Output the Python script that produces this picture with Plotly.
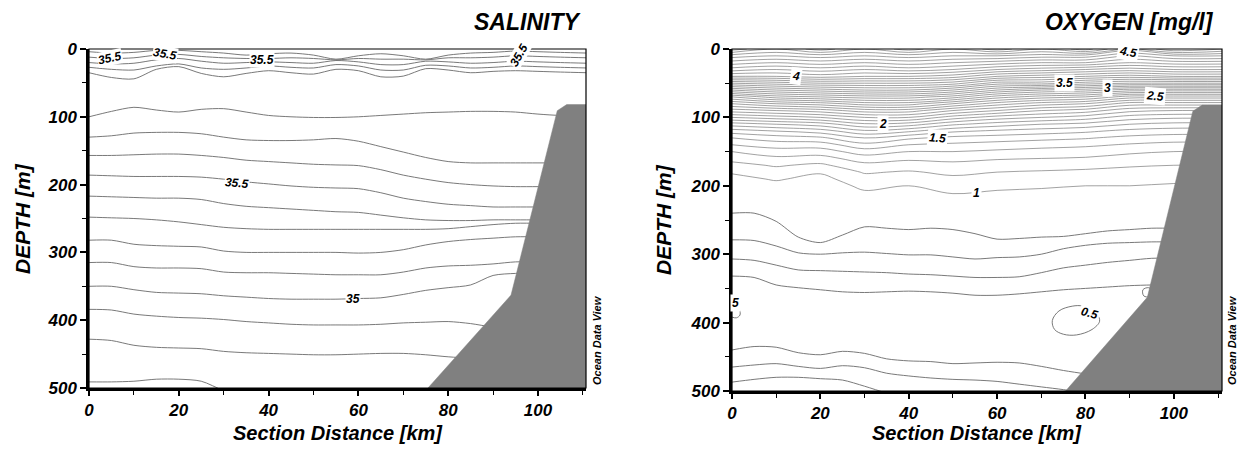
import numpy as np
import plotly.graph_objects as go

# ---------------- data ----------------
# shared distance grid (km) for hand-read isolines
XG = [0, 5, 10, 15, 20, 25, 30, 35, 40, 45, 50, 55, 60, 65, 70, 75, 80, 85, 90, 95, 100, 105, 111]

# Salinity isolines: depth (m) at each XG position
SAL_S5 = [4, 6, 5, 2, 2, 4, 6, 9, 7, 6, 9, 15, 10, 7, 10, 15, 9, 6, 5, 3, 4, 5, 6]
SAL_S4 = [12, 14, 13, 9, 8, 11, 13, 14, 14, 13, 14, 16, 14, 15, 15, 16, 13, 13, 12, 10, 11, 12, 13]
SAL_S3 = [20, 22, 21, 16, 14, 18, 21, 20, 19, 20, 21, 17, 19, 23, 23, 18, 19, 21, 20, 18, 19, 20, 21]
SAL_S2 = [27, 30, 31, 25, 22, 28, 30, 28, 25, 27, 28, 23, 25, 31, 31, 24, 25, 28, 27, 25, 26, 27, 28]
SAL_S1 = [35, 42, 44, 30, 26, 36, 41, 36, 32, 35, 37, 30, 32, 41, 40, 29, 31, 35, 33, 32, 33, 34, 35]
SAL_L1 = [100, 92, 86, 90, 93, 89, 88, 93, 98, 100, 101, 101, 100, 98, 96, 94, 93, 92, 92, 93, 96, 98, 98]
SAL_L2 = [130, 128, 124, 123, 123, 125, 130, 134, 135, 135, 134, 132, 136, 144, 152, 160, 166, 168, 168, 168, 168, 168, 168]
SAL_L3 = [157, 157, 156, 155, 155, 157, 160, 164, 166, 168, 170, 171, 172, 178, 186, 192, 197, 200, 202, 203, 203, 203, 203]
SAL_L4 = [186, 187, 188, 188, 188, 189, 192, 196, 199, 202, 204, 205, 206, 212, 220, 225, 229, 231, 233, 233, 233, 233, 233]
SAL_L5 = [217, 218, 219, 220, 220, 222, 228, 232, 234, 236, 238, 240, 241, 245, 249, 252, 253, 253, 252, 252, 252, 252, 252]
SAL_L6 = [248, 249, 250, 252, 255, 259, 263, 265, 266, 266, 266, 266, 266, 266, 266, 266, 265, 262, 259, 257, 257, 257, 257]
SAL_L7 = [282, 282, 288, 290, 291, 292, 298, 300, 300, 300, 300, 300, 301, 300, 296, 289, 284, 281, 279, 277, 277, 277, 277]
SAL_L8 = [315, 315, 321, 323, 323, 324, 329, 330, 330, 331, 332, 333, 333, 333, 329, 323, 320, 319, 317, 314, 314, 314, 314]
SAL_L9 = [350, 350, 355, 359, 360, 361, 364, 366, 368, 369, 369, 369, 368, 367, 362, 356, 352, 348, 334, 331, 331, 331, 331]
SAL_L10 = [384, 385, 391, 394, 396, 397, 399, 402, 404, 406, 407, 407, 407, 406, 404, 403, 402, 405, 410, 410, 410, 410, 410]
SAL_L11 = [428, 430, 437, 440, 441, 442, 446, 448, 449, 450, 451, 451, 450, 449, 449, 451, 454, 456, 456, 456, 456, 456, 456]
SAL_L12 = [491, 491, 490, 487, 487, 490, 504, 515, 520, 520, 520, 520, 520, 520, 520, 520, 520, 520, 520, 520, 520, 520, 520]
SAL_LINES = [SAL_S5, SAL_S4, SAL_S3, SAL_S2, SAL_S1, SAL_L1, SAL_L2, SAL_L3, SAL_L4,
             SAL_L5, SAL_L6, SAL_L7, SAL_L8, SAL_L9, SAL_L10, SAL_L11, SAL_L12]

# Oxygen (mg/l) profiles in the upper 220 m, per station
OX_STATIONS = [0, 10, 20, 30, 40, 50, 60, 70, 80, 90, 100, 111]
OX_DEPTHS = [0, 10, 20, 30, 40, 50, 60, 70, 80, 90, 100, 110, 120, 130, 140, 150, 160, 170, 180, 190, 200, 220]
O2_0KM = [4.95, 4.65, 4.45, 4.25, 4.0, 3.6, 3.2, 2.8, 2.5, 2.25, 2.0, 1.75, 1.55, 1.4, 1.3, 1.2, 1.13, 1.07, 1.01, 0.97, 0.95, 0.92]
O2_10KM = [4.8, 4.6, 4.4, 4.2, 4.0, 3.65, 3.3, 2.95, 2.6, 2.3, 2.05, 1.8, 1.6, 1.45, 1.35, 1.25, 1.18, 1.11, 1.06, 1.01, 0.97, 0.93]
O2_20KM = [4.95, 4.65, 4.45, 4.25, 4.05, 3.7, 3.35, 3.0, 2.65, 2.35, 2.1, 1.85, 1.65, 1.48, 1.35, 1.25, 1.16, 1.08, 1.01, 0.97, 0.95, 0.92]
O2_30KM = [4.8, 4.6, 4.4, 4.2, 4.0, 3.7, 3.4, 3.05, 2.75, 2.45, 2.2, 1.98, 1.78, 1.6, 1.47, 1.35, 1.25, 1.17, 1.11, 1.06, 1.02, 0.96]
O2_40KM = [4.95, 4.65, 4.45, 4.25, 4.0, 3.7, 3.4, 3.05, 2.75, 2.45, 2.2, 1.95, 1.72, 1.52, 1.4, 1.3, 1.22, 1.15, 1.09, 1.04, 1.0, 0.95]
O2_50KM = [4.8, 4.6, 4.4, 4.2, 3.95, 3.65, 3.3, 2.95, 2.6, 2.3, 2.05, 1.82, 1.62, 1.47, 1.38, 1.3, 1.23, 1.17, 1.12, 1.08, 1.04, 0.97]
O2_60KM = [4.95, 4.6, 4.35, 4.1, 3.8, 3.45, 3.1, 2.75, 2.45, 2.2, 1.95, 1.75, 1.58, 1.45, 1.36, 1.28, 1.21, 1.15, 1.1, 1.06, 1.02, 0.96]
O2_70KM = [4.8, 4.55, 4.3, 4.05, 3.75, 3.45, 3.0, 2.65, 2.35, 2.1, 1.9, 1.7, 1.55, 1.43, 1.34, 1.26, 1.2, 1.14, 1.09, 1.05, 1.01, 0.96]
O2_80KM = [4.95, 4.55, 4.3, 4.0, 3.7, 3.35, 2.95, 2.6, 2.3, 2.05, 1.85, 1.67, 1.52, 1.41, 1.32, 1.25, 1.19, 1.13, 1.08, 1.04, 1.0, 0.95]
O2_90KM = [4.65, 4.4, 4.2, 3.95, 3.65, 3.3, 2.85, 2.45, 2.15, 1.93, 1.75, 1.6, 1.47, 1.37, 1.29, 1.22, 1.16, 1.11, 1.07, 1.03, 1.0, 0.95]
O2_100KM = [4.9, 4.5, 4.25, 4.0, 3.7, 3.3, 2.85, 2.45, 2.15, 1.9, 1.72, 1.57, 1.45, 1.35, 1.27, 1.2, 1.15, 1.1, 1.06, 1.02, 0.99, 0.95]
O2_111KM = [4.8, 4.5, 4.25, 4.0, 3.7, 3.3, 2.85, 2.45, 2.15, 1.9, 1.72, 1.57, 1.45, 1.35, 1.27, 1.2, 1.15, 1.1, 1.06, 1.02, 0.99, 0.95]
O2_PROFILES = [O2_0KM, O2_10KM, O2_20KM, O2_30KM, O2_40KM, O2_50KM, O2_60KM,
               O2_70KM, O2_80KM, O2_90KM, O2_100KM, O2_111KM]

# Oxygen isolines below 200 m: depth (m) at each XG position
OX_090 = [240, 240, 252, 275, 283, 272, 260, 262, 264, 262, 264, 270, 278, 277, 275, 274, 270, 266, 264, 262, 262, 262, 262]
OX_080 = [279, 280, 288, 298, 300, 298, 297, 299, 301, 301, 304, 307, 305, 304, 300, 292, 287, 284, 283, 282, 282, 282, 282]
OX_070 = [307, 309, 316, 323, 324, 325, 326, 327, 329, 330, 332, 334, 334, 333, 327, 320, 316, 312, 309, 306, 306, 306, 306]
OX_060 = [332, 334, 345, 349, 352, 355, 356, 355, 354, 355, 357, 360, 360, 358, 355, 352, 350, 348, 346, 345, 345, 345, 345]
OX_060_DEEP = [440, 435, 436, 444, 447, 442, 445, 453, 456, 457, 460, 459, 458, 459, 464, 470, 475, 480, 480, 480, 480, 480, 480]
OX_070_DEEP = [465, 462, 460, 464, 467, 463, 466, 474, 478, 481, 483, 484, 486, 490, 494, 498, 503, 505, 505, 505, 505, 505, 505]
OX_080_DEEP = [487, 483, 480, 480, 482, 484, 493, 503, 510, 515, 515, 515, 515, 515, 515, 515, 515, 515, 515, 515, 515, 515, 515]
OX_LINES = [OX_090, OX_080, OX_070, OX_060, OX_060_DEEP, OX_070_DEEP, OX_080_DEEP]

# closed 0.5 mg/l loops
LOOP_A_X = [0, 0.8, 1.7, 1.8, 1.0, 0]
LOOP_A_D = [379, 378, 382, 389, 393, 392]
LOOP_B_X = [72.5, 74, 77, 79.5, 82.5, 83.2, 81.5, 78, 75, 73, 72.5]
LOOP_B_D = [397, 383, 376, 376, 387, 398, 410, 418, 417, 410, 397]
LOOP_C_X = [93.0, 94.3, 95.4, 94.6, 93.2, 93.0]
LOOP_C_D = [352, 349, 355, 362, 361, 352]

# bathymetry (both sections)
BATHY_X = [75.5, 94.0, 104.3, 106.4, 112, 112]
BATHY_D = [500, 363, 91, 82, 82, 500]

# contour labels: (text, km, depth, angle)
SAL_LABELS = [("35.5", 4.7, 14, -12), ("35.5", 17.0, 8, 10), ("35.5", 38.5, 16, 0),
              ("35.5", 95.8, 9, -60), ("35.5", 33.0, 197, 5), ("35", 58.9, 369, 0)]
OX_LABELS = [("4", 14.5, 40, 8), ("2", 34.2, 109, 0), ("1.5", 46.6, 130, 5),
             ("3.5", 75.3, 49, 0), ("3", 85.0, 56.5, 0), ("2.5", 95.7, 68, 5),
             ("4.5", 89.6, 5, 10), ("1", 55.3, 211, 0), ("0.5", 80.8, 386, 15),
             ("5", 0.9, 372, 0)]

X_TICKS = [0, 20, 40, 60, 80, 100]
Y_TICKS = [0, 100, 200, 300, 400, 500]

# ---------------- figure ----------------
W, H = 1245, 450
FONT = "Liberation Sans, Arial, sans-serif"
LINE_C = "#6a6a6a"

fig = go.Figure()

def px_x(p):
    return p / W

def px_y(p):
    return (H - p) / H

# salinity lines
for d in SAL_LINES:
    fig.add_trace(go.Scatter(x=XG, y=d, mode="lines", xaxis="x", yaxis="y",
                             line=dict(color=LINE_C, width=0.9, shape="spline", smoothing=0.8),
                             hoverinfo="skip", showlegend=False))

# oxygen upper field
z = np.array(O2_PROFILES).T
fig.add_trace(go.Contour(x=OX_STATIONS, y=OX_DEPTHS, z=z, xaxis="x2", yaxis="y2",
                         contours=dict(start=1.0, end=4.9, size=0.1, coloring="lines", showlabels=False),
                         line=dict(width=0.7, smoothing=1.0),
                         colorscale=[[0, "#7a7a7a"], [1, "#7a7a7a"]], showscale=False,
                         hoverinfo="skip"))
for d in OX_LINES:
    fig.add_trace(go.Scatter(x=XG, y=d, mode="lines", xaxis="x2", yaxis="y2",
                             line=dict(color=LINE_C, width=0.9, shape="spline", smoothing=0.8),
                             hoverinfo="skip", showlegend=False))
for lx, ld in [(LOOP_A_X, LOOP_A_D), (LOOP_B_X, LOOP_B_D), (LOOP_C_X, LOOP_C_D)]:
    fig.add_trace(go.Scatter(x=lx, y=ld, mode="lines", xaxis="x2", yaxis="y2",
                             line=dict(color=LINE_C, width=0.9, shape="spline", smoothing=1.0),
                             hoverinfo="skip", showlegend=False))

# bathymetry on top
for xa, ya in [("x", "y"), ("x2", "y2")]:
    fig.add_trace(go.Scatter(x=BATHY_X, y=BATHY_D, mode="lines", fill="toself",
                             fillcolor="#808080", line=dict(color="#808080", width=0.5),
                             xaxis=xa, yaxis=ya, hoverinfo="skip", showlegend=False))

tickfont = dict(family=FONT, size=17, color="black", weight="bold", style="italic")

def xaxis_cfg(dom, rng, anchor):
    return dict(domain=dom, range=rng, tickvals=X_TICKS, ticks="outside", ticklen=5,
                tickwidth=1.5, tickcolor="black", showline=True, linewidth=2.5, linecolor="black",
                showgrid=False, zeroline=False, tickfont=tickfont, automargin=False, anchor=anchor,
                minor=dict(dtick=10, tick0=0, ticks="outside", ticklen=4, tickcolor="black", tickwidth=1))

def yaxis_cfg(dom, anchor):
    return dict(domain=dom, range=[500, 0], autorange=False, tickvals=Y_TICKS, ticks="outside",
                ticklen=6, tickwidth=1.5, tickcolor="black", showline=True, linewidth=2.5,
                linecolor="black", showgrid=False, zeroline=False, tickfont=tickfont, anchor=anchor,
                automargin=False,
                minor=dict(dtick=50, tick0=0, ticks="outside", ticklen=4, tickcolor="black", tickwidth=1))

L0, L1, R0, R1 = 89, 586, 732, 1222
fig.update_layout(
    template="none",
    width=W, height=H, margin=dict(l=0, r=0, t=0, b=0, pad=0), autosize=False,
    paper_bgcolor="white", plot_bgcolor="white", showlegend=False, hovermode=False,
    xaxis=xaxis_cfg([px_x(L0), px_x(L1)], [0, 110.7], "y"),
    yaxis=yaxis_cfg([px_y(388), px_y(49)], "x"),
    xaxis2=xaxis_cfg([px_x(R0), px_x(R1)], [0, 110.9], "y2"),
    yaxis2=yaxis_cfg([px_y(391), px_y(49)], "x2"),
)

shapes = []
for xr, yr in [("x", "y"), ("x2", "y2")]:
    shapes.append(dict(type="rect", xref=xr + " domain", yref=yr + " domain", x0=0, x1=1, y0=0, y1=1,
                       line=dict(color="black", width=1.2), layer="above"))
fig.update_layout(shapes=shapes)

ann = []
def bi(t):
    return "<b><i>" + t + "</i></b>"

for t, x, d, a in SAL_LABELS:
    ann.append(dict(text=bi(t), x=x, y=d, xref="x", yref="y", showarrow=False, textangle=a,
                    font=dict(family=FONT, size=12, color="black"), bgcolor="white", borderpad=0))
for t, x, d, a in OX_LABELS:
    ann.append(dict(text=bi(t), x=x, y=d, xref="x2", yref="y2", showarrow=False, textangle=a,
                    font=dict(family=FONT, size=12, color="black"), bgcolor="white", borderpad=1))

# titles
ann.append(dict(text=bi("SALINITY"), x=px_x(583), y=px_y(21.5), xref="paper", yref="paper",
                xanchor="right", yanchor="middle", showarrow=False,
                font=dict(family=FONT, size=23, color="black")))
ann.append(dict(text=bi("OXYGEN [mg/l]"), x=px_x(1216), y=px_y(21.5), xref="paper", yref="paper",
                xanchor="right", yanchor="middle", showarrow=False,
                font=dict(family=FONT, size=23, color="black")))
# axis titles
for cx in [(L0 + L1) / 2, (R0 + R1) / 2]:
    ann.append(dict(text=bi("Section Distance [km]"), x=px_x(cx), y=px_y(433), xref="paper", yref="paper",
                    xanchor="center", yanchor="middle", showarrow=False,
                    font=dict(family=FONT, size=20, color="black")))
for cx, cy in [(22, 219), (663, 220)]:
    ann.append(dict(text=bi("DEPTH [m]"), x=px_x(cx), y=px_y(cy), xref="paper", yref="paper",
                    xanchor="center", yanchor="middle", showarrow=False, textangle=-90,
                    font=dict(family=FONT, size=21, color="black")))
# Ocean Data View
for cx in [597, 1232]:
    ann.append(dict(text=bi("Ocean Data View"), x=px_x(cx), y=px_y(387), xref="paper", yref="paper",
                    xanchor="center", yanchor="bottom", showarrow=False, textangle=-90,
                    font=dict(family=FONT, size=11, color="black")))
fig.update_layout(annotations=ann)

fig.write_html("out.html")
